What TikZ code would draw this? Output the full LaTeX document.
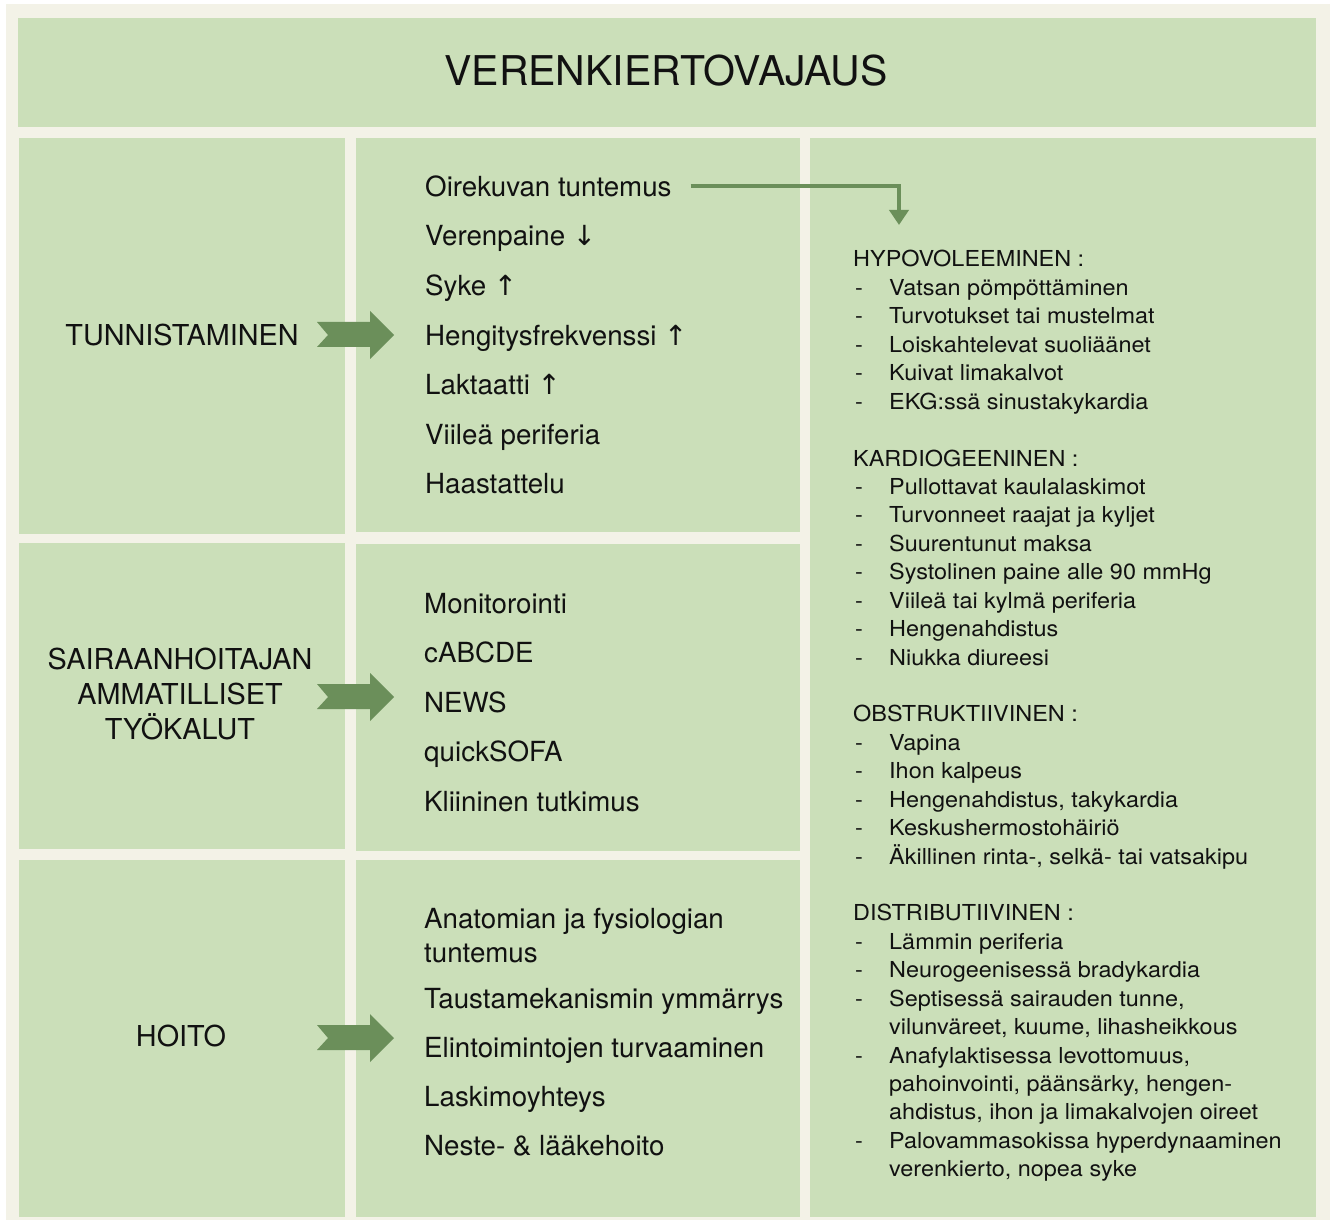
\documentclass[tikz,border=0pt]{standalone}
\usepackage{fontspec}
\setmainfont{TeX Gyre Heros}
\newfontfamily\sidefont[FakeStretch=1.065]{TeX Gyre Heros}
\newfontfamily\arrfont{DejaVu Sans}
\usetikzlibrary{arrows.meta}
\definecolor{panel}{HTML}{CBDFB9}
\definecolor{paper}{HTML}{F3F2E7}
\definecolor{leaf}{HTML}{6B8F5A}
\definecolor{ink}{HTML}{111111}
\newcommand\dn{{\arrfont ↓}}
\newcommand\up{{\arrfont ↑}}
\newcommand\rowhead[2]{\node[side] (r#1) at (853,{267+28.43*#1}) {#2};}
\newcommand\rowitem[2]{\node[side] (d#1) at (855,{267+28.43*#1}) {-};\node[side] (r#1) at (889,{267+28.43*#1}) {#2};}
\begin{document}
\begin{tikzpicture}[x=1pt,y=-1pt,
  panelbox/.style={fill=panel},
  titletext/.style={anchor=base, inner sep=0pt, font=\fontsize{41}{48}\selectfont, text=ink},
  mid/.style={anchor=base west, inner sep=0pt, font=\fontsize{27.7}{33}\selectfont, text=ink},
  side/.style={anchor=base west, inner sep=0pt, font=\sidefont\fontsize{22}{26}\selectfont, text=ink},
  lab/.style={anchor=base, inner sep=0pt, font=\fontsize{28.8}{33}\selectfont, text=ink},
  chev/.style={fill=leaf},
  link/.style={draw=leaf, line width=4pt, -{Triangle[width=19pt,length=15pt]}}]
\useasboundingbox (0,0) rectangle (1330,1222);
\fill[white] (0,0) rectangle (1330,1222);
\fill[paper] (6,4) rectangle (1330,1220);
% panels
\fill[panelbox] (18,18) rectangle (1316,127);
\fill[panelbox] (19,138) rectangle (345,534);
\fill[panelbox] (19,543) rectangle (345,849);
\fill[panelbox] (19,860) rectangle (345,1217);
\fill[panelbox] (356,138) rectangle (800,532);
\fill[panelbox] (356,544) rectangle (800,851);
\fill[panelbox] (356,860) rectangle (800,1217);
\fill[panelbox] (810,138) rectangle (1316,1217);
% title
\node[titletext] (title) at (666,86) {VERENKIERTOVAJAUS};
% left labels
\node[lab] (l1) at (182,345) {TUNNISTAMINEN};
\node[lab] (l2a) at (180,669) {SAIRAANHOITAJAN};
\node[lab] (l2b) at (180,704) {AMMATILLISET};
\node[lab] (l2c) at (180,739) {TYÖKALUT};
\node[lab] (l3) at (181,1046) {HOITO};
% chevrons
\foreach \cy in {335,697,1038}{
  \fill[chev, shift={(0,\cy)}] (317,-13) -- (328,0) -- (317,12) -- (370,12) -- (370,24) -- (394,0) -- (370,-24) -- (370,-13) -- cycle;
}
% middle row 1
\node[mid] (m1) at (425,196.5) {Oirekuvan tuntemus};
\node[mid] (m2) at (425,246) {Verenpaine \dn};
\node[mid] (m3) at (425,295.5) {Syke \up};
\node[mid] (m4) at (425,345) {Hengitysfrekvenssi \up};
\node[mid] (m5) at (425,394.5) {Laktaatti \up};
\node[mid] (m6) at (425,444) {Viileä periferia};
\node[mid] (m7) at (425,493.5) {Haastattelu};
% middle row 2
\node[mid] (n1) at (424,613) {Monitorointi};
\node[mid] (n2) at (424,662.5) {cABCDE};
\node[mid] (n3) at (424,712) {NEWS};
\node[mid] (n4) at (424,761.5) {quickSOFA};
\node[mid] (n5) at (424,811) {Kliininen tutkimus};
% middle row 3
\node[mid] (p1) at (424,928) {Anatomian ja fysiologian};
\node[mid] (p1b) at (424,962) {tuntemus};
\node[mid] (p2) at (424,1008) {Taustamekanismin ymmärrys};
\node[mid] (p3) at (424,1057) {Elintoimintojen turvaaminen};
\node[mid] (p4) at (424,1106) {Laskimoyhteys};
\node[mid] (p5) at (424,1155) {Neste- \& lääkehoito};
% right column
\rowhead{0}{HYPOVOLEEMINEN :}
\rowitem{1}{Vatsan pömpöttäminen}
\rowitem{2}{Turvotukset tai mustelmat}
\rowitem{3}{Loiskahtelevat suoliäänet}
\rowitem{4}{Kuivat limakalvot}
\rowitem{5}{EKG:ssä sinustakykardia}
\rowhead{7}{KARDIOGEENINEN :}
\rowitem{8}{Pullottavat kaulalaskimot}
\rowitem{9}{Turvonneet raajat ja kyljet}
\rowitem{10}{Suurentunut maksa}
\rowitem{11}{Systolinen paine alle 90 mmHg}
\rowitem{12}{Viileä tai kylmä periferia}
\rowitem{13}{Hengenahdistus}
\rowitem{14}{Niukka diureesi}
\rowhead{16}{OBSTRUKTIIVINEN :}
\rowitem{17}{Vapina}
\rowitem{18}{Ihon kalpeus}
\rowitem{19}{Hengenahdistus, takykardia}
\rowitem{20}{Keskushermostohäiriö}
\rowitem{21}{Äkillinen rinta-, selkä- tai vatsakipu}
\rowhead{23}{DISTRIBUTIIVINEN :}
\rowitem{24}{Lämmin periferia}
\rowitem{25}{Neurogeenisessä bradykardia}
\rowitem{26}{Septisessä sairauden tunne,}
\node[side] (r27) at (889,{267+28.43*27}) {vilunväreet, kuume, lihasheikkous};
\rowitem{28}{Anafylaktisessa levottomuus,}
\node[side] (r29) at (889,{267+28.43*29}) {pahoinvointi, päänsärky, hengen-};
\node[side] (r30) at (889,{267+28.43*30}) {ahdistus, ihon ja limakalvojen oireet};
\rowitem{31}{Palovammasokissa hyperdynaaminen}
\node[side] (r32) at (889,{267+28.43*32}) {verenkierto, nopea syke};
% connector
\coordinate (hypoin) at (899,225);
\draw[link] ([xshift=19pt]m1.east) -| (hypoin);
\end{tikzpicture}
\end{document}
